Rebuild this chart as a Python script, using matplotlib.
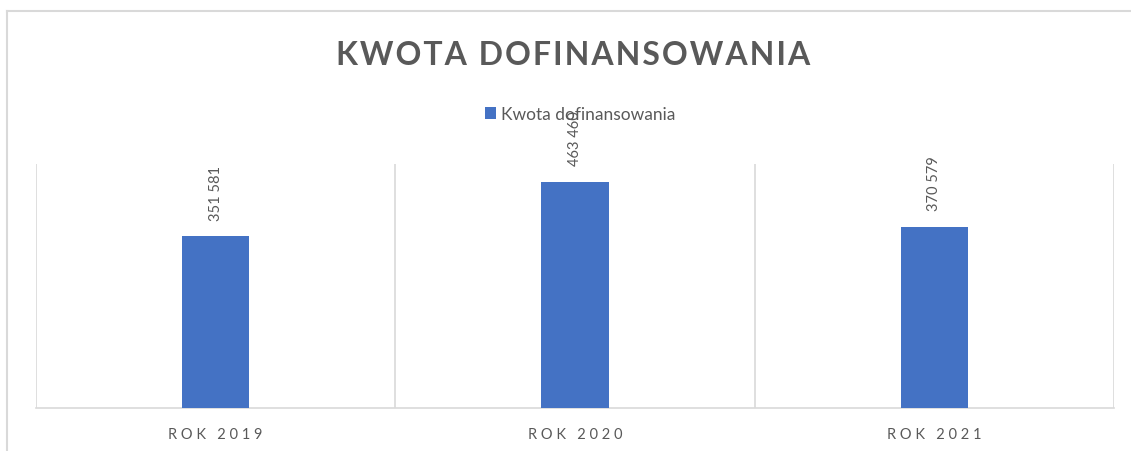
import matplotlib
matplotlib.use("Agg")
import matplotlib.pyplot as plt
from matplotlib.lines import Line2D

categories = ["ROK 2019", "ROK 2020", "ROK 2021"]
values = [351581, 463460, 370579]
value_labels = ["351 581", "463 460", "370 579"]
series_name = "Kwota dofinansowania"
title = "KWOTA DOFINANSOWANIA"

BLUE = "#4472C4"
TEXT = "#595959"
GRID = "#D9D9D9"

plt.rcParams["font.family"] = ["Lato", "DejaVu Sans"]

fig = plt.figure(figsize=(11.31, 4.52), dpi=100)
ax = fig.add_axes([0.0318, 0.0951, 0.9532, 0.5399])

x = range(len(categories))
ax.bar(x, values, width=0.187, color=BLUE, label=series_name, zorder=3)
ax.set_xlim(-0.5, len(categories) - 0.5)
ax.set_ylim(0, 500000)

# category dividers
for b in [i + 0.5 for i in range(-1, len(categories))]:
    ax.axvline(b, color=GRID, lw=1.2, zorder=1)

for s in ["top", "left", "right"]:
    ax.spines[s].set_visible(False)
ax.spines["bottom"].set_color(GRID)
ax.spines["bottom"].set_linewidth(1.2)
ax.set_yticks([])
ax.set_xticks(list(x))
ax.set_xticklabels([" ".join(c) for c in categories], color=TEXT, fontsize=10.5)
ax.tick_params(axis="x", length=0, pad=14)

for xi, v, lab in zip(x, values, value_labels):
    ax.annotate(lab, (xi, v), xytext=(0, 12), textcoords="offset points",
                rotation=90, ha="center", va="bottom", color=TEXT, fontsize=10.5)

# slight letter spacing with hair spaces
fig.text(0.507, 0.878, "\u200a".join(title), ha="center", va="center",
         fontsize=23, fontweight="bold", color=TEXT)

leg = fig.legend(loc="center", bbox_to_anchor=(0.513, 0.745), frameon=False,
                 fontsize=12.5, handlelength=0.65, handleheight=0.65, handletextpad=0.3)
for t in leg.get_texts():
    t.set_color(TEXT)

# outer chart frame (cropped on right/bottom)
fig.add_artist(Line2D([7 / 1131, 7 / 1131], [0, 1 - 12 / 452], transform=fig.transFigure,
                      color=GRID, lw=1.5))
fig.add_artist(Line2D([7 / 1131, 1], [1 - 12 / 452, 1 - 12 / 452], transform=fig.transFigure,
                      color=GRID, lw=1.5))

fig.savefig("out.png", dpi=100, facecolor="white")
